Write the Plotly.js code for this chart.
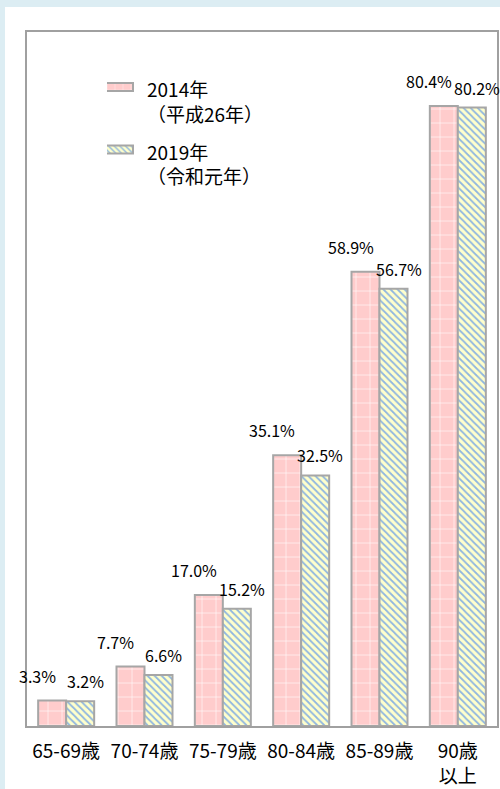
<!DOCTYPE html>
<html>
<head>
<meta charset="utf-8">
<script src="https://cdn.plot.ly/plotly-3.0.1.min.js"></script>
<style>
html,body{margin:0;padding:0;background:#dcedf3;width:500px;height:789px;overflow:hidden;}
#chart{position:absolute;left:5px;top:7px;width:495px;height:782px;background:#fff;}
</style>
</head>
<body>
<div id="chart"></div>
<script>
const categories = ["65-69歳", "70-74歳", "75-79歳", "80-84歳", "85-89歳", "90歳<br>以上"];
const seriesNames = ["2014年<br>（平成26年）", "2019年<br>（令和元年）"];
const values2014 = [3.3, 7.7, 17.0, 35.1, 58.9, 80.4];
const values2019 = [3.2, 6.6, 15.2, 32.5, 56.7, 80.2];

const FONT = '"Noto Sans CJK JP", "Noto Sans", sans-serif';
const outline = {color: '#a6a6a6', width: 2};

const traces = [
  {
    type: 'bar', x: categories, y: values2014, name: seriesNames[0], legendgroup: 'a',
    marker: {color: '#ffcccc', line: outline,
      pattern: {shape: '+', fgcolor: '#ffffff', bgcolor: '#ffcccc', size: 14, solidity: 0.08, fillmode: 'replace'}},
    hoverinfo: 'skip'
  },
  {
    type: 'bar', x: categories, y: values2019, name: seriesNames[1], legendgroup: 'b',
    marker: {color: '#ffffcc', line: outline,
      pattern: {shape: '\\', fgcolor: '#8fb6e0', bgcolor: '#ffffcc', size: 5, solidity: 0.35, fillmode: 'replace'}},
    hoverinfo: 'skip'
  }
];

const annotations = [];
categories.forEach((c, i) => {
  annotations.push({x: c, y: values2014[i], xref: 'x', yref: 'y', text: values2014[i].toFixed(1) + '%',
    showarrow: false, xshift: -29, yshift: 11, yanchor: 'bottom', font: {family: FONT, size: 16, color: '#000'}});
  annotations.push({x: c, y: values2019[i], xref: 'x', yref: 'y', text: values2019[i].toFixed(1) + '%',
    showarrow: false, xshift: 19, yshift: 6, yanchor: 'bottom', font: {family: FONT, size: 16, color: '#000'}});
});

const layout = {
  width: 495, height: 782,
  margin: {l: 22, r: 3, t: 25, b: 63},
  paper_bgcolor: '#ffffff', plot_bgcolor: '#ffffff',
  font: {family: FONT, color: '#000'},
  barmode: 'group', bargap: 0.285, bargroupgap: 0,
  showlegend: true,
  legend: {x: 0.1702, y: 0.944, xanchor: 'left', yanchor: 'top', bgcolor: 'rgba(0,0,0,0)',
    font: {family: FONT, size: 19, color: '#000'}, traceorder: 'grouped', tracegroupgap: 10},
  xaxis: {type: 'category', range: [-0.5, 5.5], autorange: false, showline: true, mirror: true, linecolor: '#a0a0a0', linewidth: 2, automargin: false,
    ticks: '', tickfont: {family: FONT, size: 19, color: '#000'}, ticklabelstandoff: 7, fixedrange: true},
  yaxis: {range: [0, 90], autorange: false, showline: true, mirror: true, linecolor: '#a0a0a0', linewidth: 2, automargin: false,
    showgrid: false, zeroline: false, showticklabels: false, ticks: '', fixedrange: true},
  annotations: annotations
};

Plotly.newPlot('chart', traces, layout, {displayModeBar: false, staticPlot: true}).then(() => {
  // widen the legend swatches to the long, flat sample bars of the original
  document.querySelectorAll('.legend .legendpoints path').forEach(p => p.setAttribute('d', 'M-55,-19H6V-11H-55Z'));
});
</script>
</body>
</html>
